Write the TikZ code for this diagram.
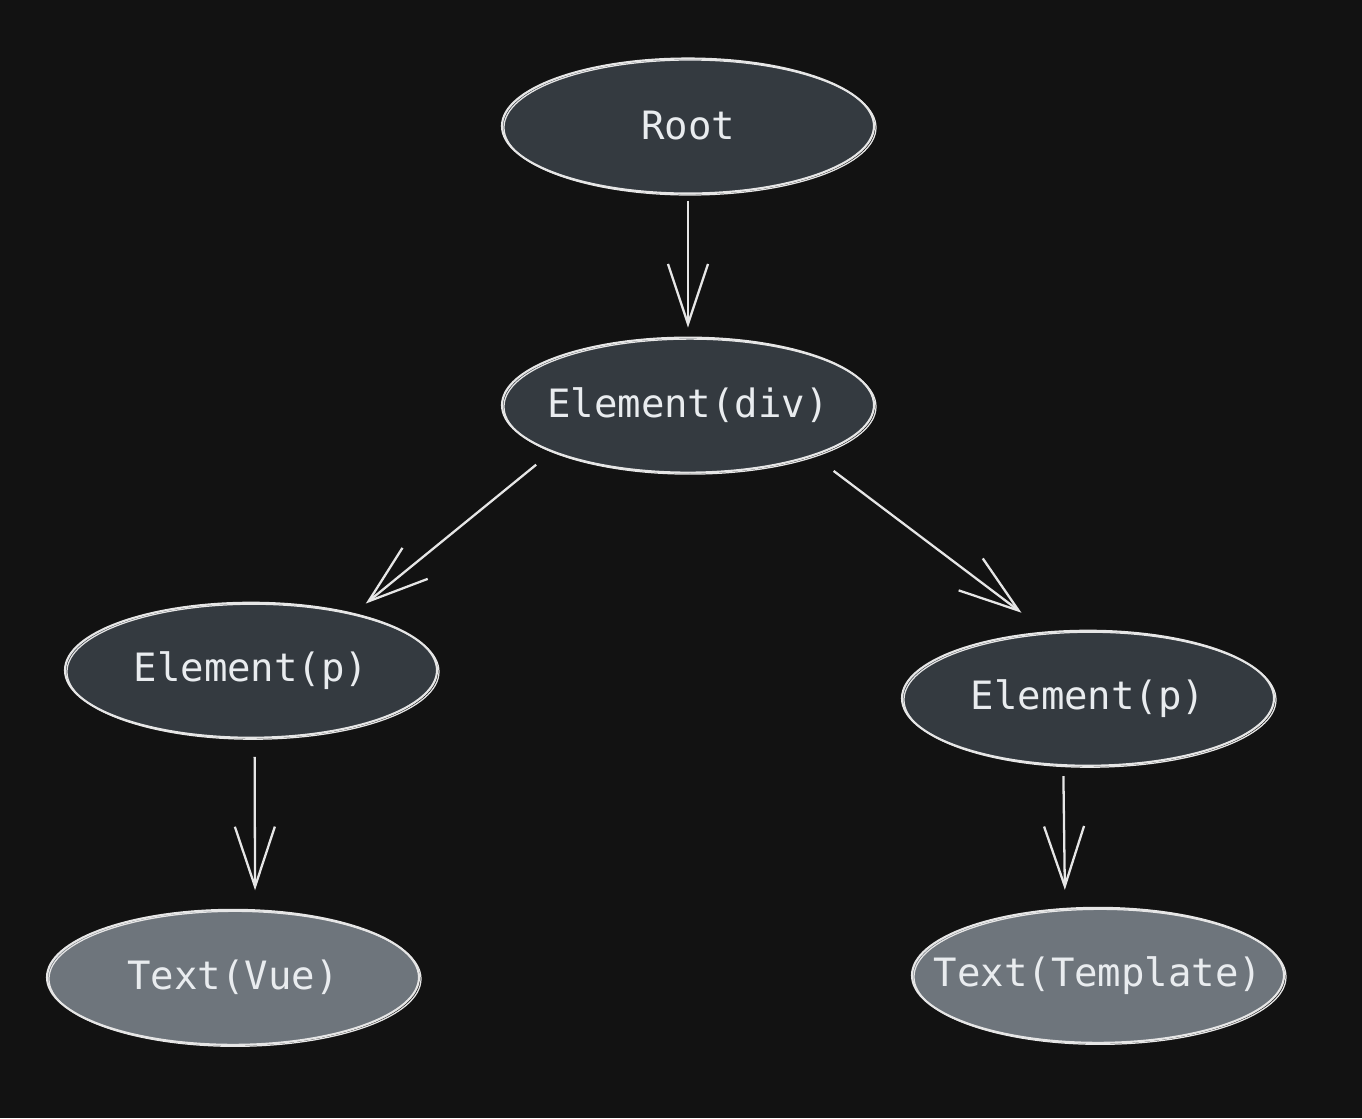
\documentclass[tikz,border=0pt]{standalone}
\usepackage{fontspec}
\setmonofont{DejaVu Sans Mono}
\usetikzlibrary{positioning,shapes.geometric,arrows.meta}
\definecolor{canvas}{HTML}{121212}
\definecolor{nodefill}{HTML}{343A40}
\definecolor{leaffill}{HTML}{6E757C}
\definecolor{ink}{HTML}{E9ECEF}
\definecolor{stroke}{HTML}{E6E6E6}

\begin{document}
\begin{tikzpicture}[
  elem/.style={ellipse, draw=stroke, fill=nodefill, line width=1.2pt,
    minimum width=7.44cm, minimum height=2.7cm, inner xsep=-2cm, inner ysep=0pt,
    text=ink, font=\ttfamily\fontsize{22.2}{27}\selectfont,
    postaction={draw=stroke, line width=0.7pt, transform canvas={shift={(0.04cm,-0.03cm)}}}},
  leaf/.style={elem, fill=leaffill},
  link/.style={-{Straight Barb[length=1.2cm,width=0.8cm]}, color=stroke, line width=1.3pt}
]
  \fill[canvas] (0,0) rectangle (27.24,-22.36);

  \node[elem] (root) at (13.76,-2.52) {Root};
  \node[elem] (div) [below=2.84cm of root] {Element(div)};
  \node[elem] (lp) [below=2.56cm of div, xshift=-8.74cm] {Element(p)};
  \node[elem] (rp) [below=3.12cm of div, xshift=8cm] {Element(p)};
  \node[leaf] (vue) [below=3.4cm of lp, xshift=-0.36cm] {Text(Vue)};
  \node[leaf] (tpl) [below=2.8cm of rp, xshift=0.2cm] {Text(Template)};

  \path[link]
    (root) edge [shorten <=0.12cm, shorten >=0.18cm] (div)
    (div.199) edge [shorten <=0.4cm, shorten >=0.3cm] (lp.29)
    (div.338) edge [shorten <=0.5cm, shorten >=0.62cm] (rp.122)
    (lp.273) edge [shorten <=0.36cm, shorten >=0.38cm] (vue.72)
    (rp.250) edge [shorten <=0.2cm, shorten >=0.36cm] (tpl.116);

\end{tikzpicture}
\end{document}
